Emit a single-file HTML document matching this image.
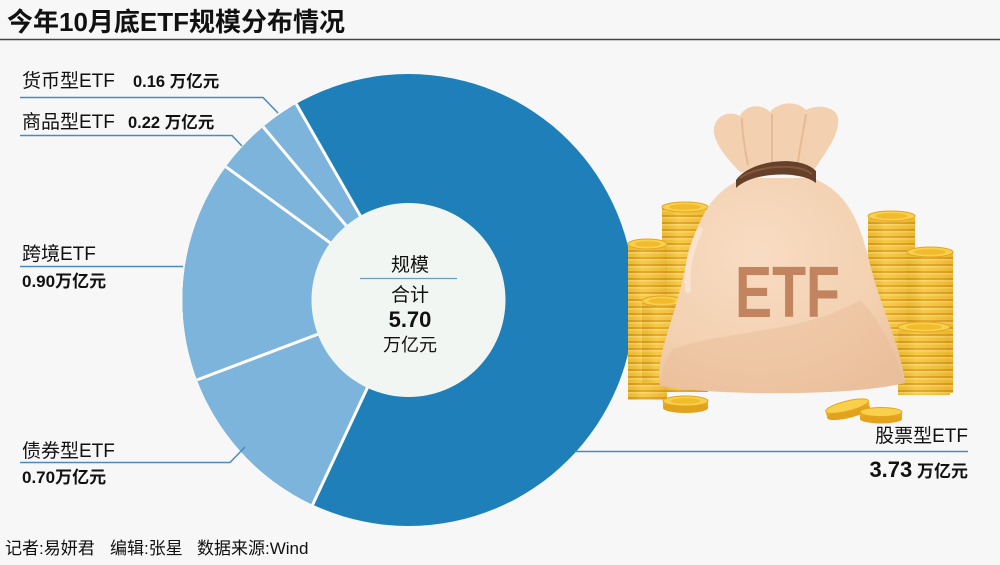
<!DOCTYPE html>
<html>
<head>
<meta charset="utf-8">
<style>
  html,body{margin:0;padding:0;background:#f7f7f7;}
  svg{display:block;}
  text{font-family:"Liberation Sans","Noto Sans CJK SC",sans-serif;fill:#111;}
</style>
</head>
<body>
<svg width="1000" height="565" viewBox="0 0 1000 565" xmlns="http://www.w3.org/2000/svg">
  <defs>
    <pattern id="cp" width="60" height="7" patternUnits="userSpaceOnUse">
      <rect width="60" height="7" fill="#f7c434"/>
      <rect y="0" width="60" height="1.5" fill="#fbd660"/>
      <rect y="5" width="60" height="2" fill="#e0a01e"/>
    </pattern>
    <linearGradient id="cshade" x1="0" y1="0" x2="1" y2="0">
      <stop offset="0" stop-color="#000" stop-opacity="0.05"/>
      <stop offset="0.35" stop-color="#fff" stop-opacity="0.1"/>
      <stop offset="1" stop-color="#a0600a" stop-opacity="0.15"/>
    </linearGradient>
    <radialGradient id="bagg" cx="0.4" cy="0.35" r="0.75">
      <stop offset="0" stop-color="#f8dcc3"/>
      <stop offset="0.7" stop-color="#f3d0b0"/>
      <stop offset="1" stop-color="#ecc3a0"/>
    </radialGradient>
  </defs>

  <rect width="1000" height="565" fill="#f7f7f7"/>

  <!-- Title -->
  <text x="7" y="31" font-size="26" font-weight="bold">今年10月底ETF规模分布情况</text>
  <line x1="0" y1="39.5" x2="1000" y2="39.5" stroke="#444" stroke-width="1.5"/>

  <!-- Donut -->
  <circle cx="408.5" cy="300" r="226" fill="#1e7fb9"/>
  <path d="M408.5 300 L312.6 504.7 A226 226 0 0 1 296.2 103.9 Z" fill="#7cb4dc"/>
  <g stroke="#ffffff" stroke-width="3">
    <line x1="408.5" y1="300" x2="312.6" y2="504.7"/>
    <line x1="408.5" y1="300" x2="197.1" y2="379.9"/>
    <line x1="408.5" y1="300" x2="225.9" y2="166.8"/>
    <line x1="408.5" y1="300" x2="263.2" y2="126.9"/>
    <line x1="408.5" y1="300" x2="296.2" y2="103.9"/>
  </g>
  <circle cx="408.5" cy="300" r="97" fill="#f2f6f2"/>

  <!-- center text -->
  <text x="410" y="271" font-size="19" text-anchor="middle">规模</text>
  <line x1="360" y1="278.5" x2="457" y2="278.5" stroke="#6b9cc4" stroke-width="1.2"/>
  <text x="410" y="301" font-size="19" text-anchor="middle">合计</text>
  <text x="410" y="327" font-size="22" font-weight="bold" text-anchor="middle">5.70</text>
  <text x="410" y="351" font-size="18" text-anchor="middle">万亿元</text>

  <!-- Label lines -->
  <g fill="none" stroke="#4a8ac0" stroke-width="1.5">
    <path d="M20 97.5 H263 L278 113"/>
    <path d="M20 135.5 H232 L242 146"/>
    <path d="M20 266.5 H183"/>
    <path d="M20 462.5 H230 L245 447"/>
    <path d="M575 451.5 H968"/>
  </g>

  <!-- Labels -->
  <text x="22" y="87" font-size="19">货币型ETF</text>
  <text x="133" y="87" font-size="16.5" font-weight="bold">0.16 万亿元</text>
  <text x="22" y="128" font-size="19">商品型ETF</text>
  <text x="128" y="128" font-size="16.5" font-weight="bold">0.22 万亿元</text>
  <text x="22" y="260" font-size="19">跨境ETF</text>
  <text x="22" y="287" font-size="17" font-weight="bold">0.90万亿元</text>
  <text x="22" y="457" font-size="19">债券型ETF</text>
  <text x="22" y="483" font-size="17" font-weight="bold">0.70万亿元</text>
  <text x="968" y="442" font-size="19" text-anchor="end">股票型ETF</text>
  <text x="968" y="477" text-anchor="end" font-weight="bold"><tspan font-size="22">3.73</tspan><tspan font-size="17"> 万亿元</tspan></text>

  <!-- Footer -->
  <text x="5" y="554" font-size="17">记者:易妍君</text>
  <text x="110" y="554" font-size="17">编辑:张星</text>
  <text x="197" y="554" font-size="17">数据来源:Wind</text>

  <!-- Coin stacks (back) -->
  <g>
    <rect x="662" y="207" width="46" height="185" fill="url(#cp)"/>
    <rect x="662" y="207" width="46" height="185" fill="url(#cshade)"/>
    <ellipse cx="685" cy="207" rx="23" ry="5" fill="#f9d04c" stroke="#e3a622"/>
    <ellipse cx="685" cy="207" rx="16" ry="2.8" fill="#f2bb2c"/>

    <rect x="628" y="244" width="39" height="156" fill="url(#cp)"/>
    <rect x="628" y="244" width="39" height="156" fill="url(#cshade)"/>
    <ellipse cx="647.5" cy="244" rx="19.5" ry="5" fill="#f9d04c" stroke="#e3a622"/>
    <ellipse cx="647.5" cy="244" rx="13" ry="2.8" fill="#f2bb2c"/>

    <rect x="642" y="301" width="40" height="82" fill="url(#cp)"/>
    <rect x="642" y="301" width="40" height="82" fill="url(#cshade)"/>
    <ellipse cx="662" cy="301" rx="20" ry="5" fill="#f9d04c" stroke="#e3a622"/>
    <ellipse cx="662" cy="301" rx="13.5" ry="2.8" fill="#f2bb2c"/>

    <rect x="868" y="216" width="47" height="145" fill="url(#cp)"/>
    <rect x="868" y="216" width="47" height="145" fill="url(#cshade)"/>
    <ellipse cx="891.5" cy="216" rx="23.5" ry="5" fill="#f9d04c" stroke="#e3a622"/>
    <ellipse cx="891.5" cy="216" rx="16" ry="2.8" fill="#f2bb2c"/>

    <rect x="907" y="252" width="46" height="141" fill="url(#cp)"/>
    <rect x="907" y="252" width="46" height="141" fill="url(#cshade)"/>
    <ellipse cx="930" cy="252" rx="23" ry="5" fill="#f9d04c" stroke="#e3a622"/>
    <ellipse cx="930" cy="252" rx="16" ry="2.8" fill="#f2bb2c"/>

    <rect x="898" y="327" width="52" height="68" fill="url(#cp)"/>
    <rect x="898" y="327" width="52" height="68" fill="url(#cshade)"/>
    <ellipse cx="924" cy="327" rx="26" ry="5" fill="#f9d04c" stroke="#e3a622"/>
    <ellipse cx="924" cy="327" rx="18" ry="2.8" fill="#f2bb2c"/>
  </g>

  <!-- Bag -->
  <g>
    <path d="M745 178 C705 192 693 232 682 282 C673 322 655 358 660 386 C720 396 850 396 905 383 C902 350 882 310 871 268 C861 226 850 192 812 178 Z" fill="url(#bagg)"/>
    <path d="M672 350 C720 330 800 335 860 300 C880 320 895 350 905 383 C850 396 720 396 660 386 C661 372 665 360 672 350 Z" fill="#e9bb96" opacity="0.45"/>
    <path d="M700 230 C690 250 686 270 688 290" stroke="#fbe6d3" stroke-width="6" fill="none" stroke-linecap="round" opacity="0.8"/>
    <path d="M740 172 C726 158 712 140 714 128 C716 116 728 110 740 116 C744 106 760 102 770 112 C778 102 796 100 806 110 C816 104 836 106 838 118 C840 134 826 152 814 170 Z" fill="#f3d0b0"/>
    <path d="M748 165 C744 145 742 130 742 118 M772 163 C772 145 772 128 772 114 M798 163 C800 145 804 128 806 114" stroke="#e6ba94" stroke-width="2" fill="none"/>
    <path d="M736 180 C750 160 800 154 816 171 L816 183 C800 170 752 172 736 188 Z" fill="#65402a"/>
    <path d="M740 178 C756 166 798 162 812 174" stroke="#84573a" stroke-width="2" fill="none"/>
    <text x="735" y="317" font-size="72" font-weight="bold" textLength="105" lengthAdjust="spacingAndGlyphs" style="fill:#c2845f">ETF</text>
  </g>

  <!-- loose coins -->
  <g>
    <rect x="663" y="401" width="45" height="7" fill="#e8aa22"/>
    <ellipse cx="685.5" cy="408" rx="22.5" ry="5" fill="#e2a21c"/>
    <ellipse cx="685.5" cy="401" rx="22.5" ry="5" fill="#f9d04c" stroke="#e3a622"/>
    <ellipse cx="685.5" cy="401" rx="15" ry="2.8" fill="#f2bb2c"/>

    <g transform="rotate(-14 848 410)">
      <rect x="826" y="406" width="44" height="7" fill="#e8aa22"/>
      <ellipse cx="848" cy="413" rx="22" ry="5" fill="#e2a21c"/>
      <ellipse cx="848" cy="406" rx="22" ry="5" fill="#f9d04c" stroke="#e3a622"/>
    </g>
    <rect x="860" y="412" width="42" height="7" fill="#e8aa22"/>
    <ellipse cx="881" cy="419" rx="21" ry="4.5" fill="#e2a21c"/>
    <ellipse cx="881" cy="412" rx="21" ry="4.5" fill="#f9d04c" stroke="#e3a622"/>
  </g>
</svg>
</body>
</html>
